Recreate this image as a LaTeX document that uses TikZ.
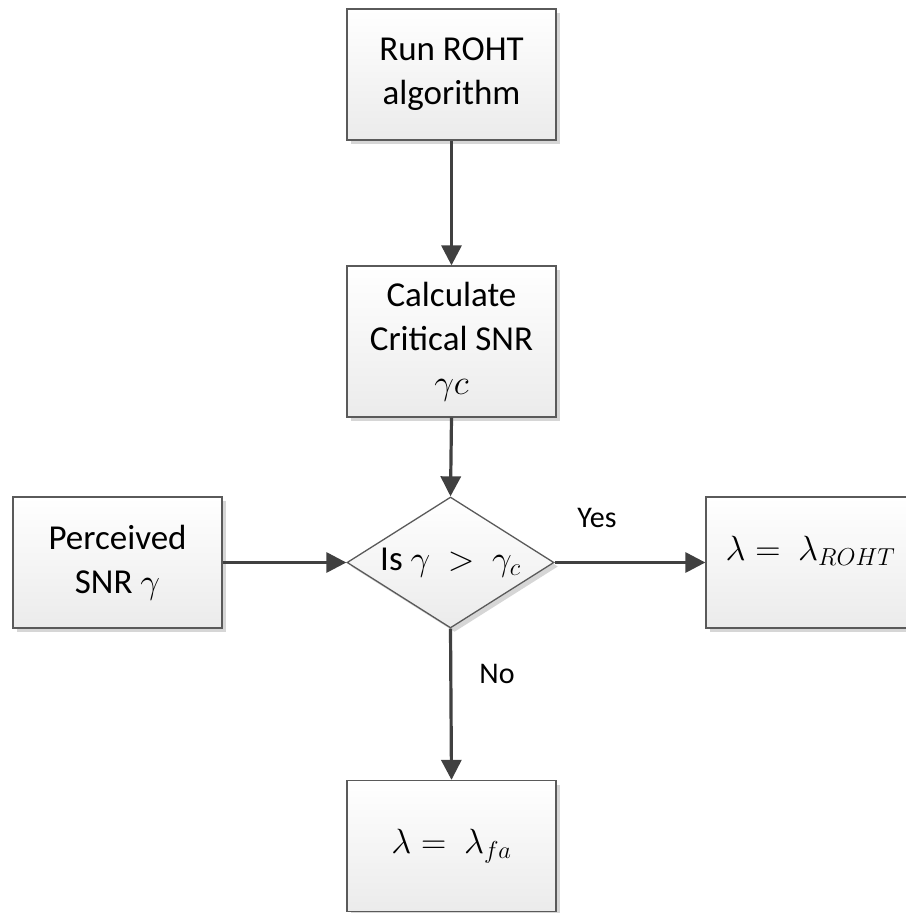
\documentclass[tikz,border=0pt]{standalone}
\usepackage{fix-cm}
\usepackage{fontspec}
\setmainfont{Carlito}
\usetikzlibrary{shapes.geometric,shadows,arrows.meta}

\definecolor{boxline}{HTML}{5A5A5A}
\definecolor{arrowc}{HTML}{404040}
\definecolor{boxbot}{HTML}{EBEBEB}
\definecolor{shadowgray}{HTML}{D6D6D6}

\newcommand\boxfont{\fontsize{35}{44}\selectfont}
\newcommand\lblfont{\fontsize{30}{36}\selectfont}

\tikzset{
  stepbox/.style={rectangle, draw=boxline, line width=1.3pt,
    top color=white, bottom color=boxbot,
    drop shadow={shadow xshift=4pt, shadow yshift=-4pt, fill=shadowgray, opacity=1},
    minimum width=209pt, minimum height=131pt, inner sep=0pt,
    align=center, font=\boxfont},
  decision/.style={diamond, draw=boxline, line width=1.3pt,
    top color=white, bottom color=boxbot,
    drop shadow={shadow xshift=4pt, shadow yshift=-4pt, fill=shadowgray, opacity=1},
    minimum width=207pt, minimum height=131pt, aspect=1.58, inner sep=0pt,
    font=\boxfont},
  flow/.style={draw=arrowc, line width=3.2pt,
    -{Triangle[length=20pt,width=20pt]}},
  branch/.style={font=\lblfont, text=black}
}

\begin{document}
\begin{tikzpicture}[x=1pt,y=-1pt]
\useasboundingbox (0,0) rectangle (905,913);

% process steps
\node[stepbox] (run) at (451.5,74.5) {Run ROHT\\algorithm};
\node[stepbox, minimum height=151pt] (calc) at (451.5,341.5) {Calculate\\Critical SNR\\$\gamma c$};
\node[stepbox] (snr) at (117.5,562.5) {Perceived\\SNR $\gamma$};
\node[decision] (dec) at (450.5,562.5) {Is $\gamma\ >\ \gamma_c$};
\node[stepbox, text depth=28pt] (roht) at (810.5,562.5) {$\lambda =\ \lambda_{ROHT}$};
\node[stepbox] (fa) at (451.5,846) {$\lambda =\ \lambda_{fa}$};

% connectors
\draw[flow] (run.south) -- (calc.north);
\draw[flow] (calc.south) -- (dec.north);
\draw[flow] (snr.east) -- (dec.west);
\draw[flow] (dec.east) -- (roht.west);
\draw[flow] (dec.south) -- (fa.north);

% branch labels
\node[branch] (yes) at (597,518) {Yes};
\node[branch] (no) at (497,674) {No};
\end{tikzpicture}
\end{document}
